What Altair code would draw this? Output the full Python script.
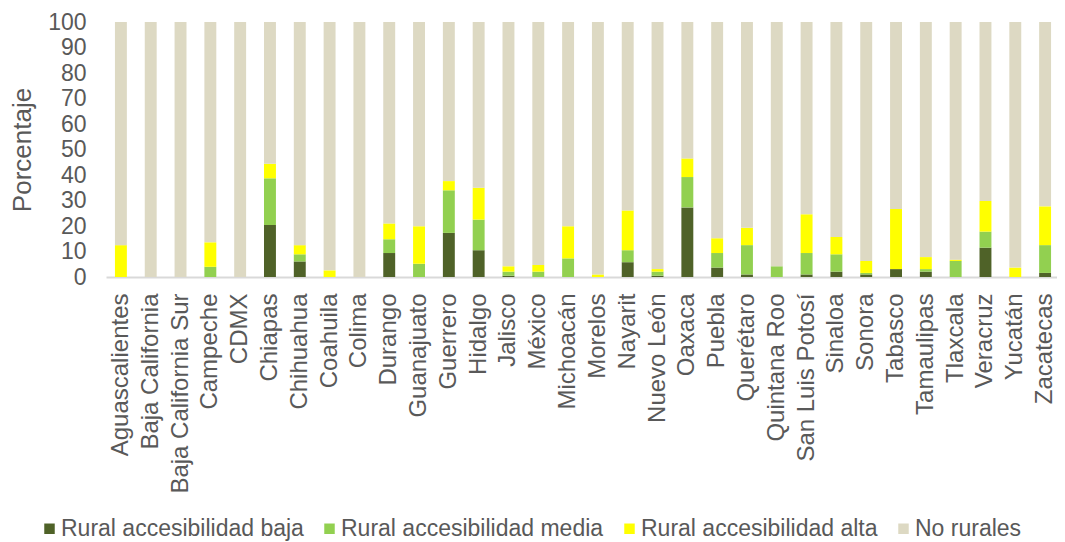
import altair as alt
import pandas as pd

states = ["Aguascalientes", "Baja California", "Baja California Sur", "Campeche", "CDMX",
          "Chiapas", "Chihuahua", "Coahuila", "Colima", "Durango", "Guanajuato", "Guerrero",
          "Hidalgo", "Jalisco", "México", "Michoacán", "Morelos", "Nayarit", "Nuevo León",
          "Oaxaca", "Puebla", "Querétaro", "Quintana Roo", "San Luis Potosí", "Sinaloa",
          "Sonora", "Tabasco", "Tamaulipas", "Tlaxcala", "Veracruz", "Yucatán", "Zacatecas"]

baja = [0, 0, 0, 0, 0, 20.4, 6.1, 0, 0, 9.4, 0, 17.3, 10.5, 0.5, 0, 0, 0, 5.8, 0.5, 27.3,
        3.7, 1.0, 0, 1.0, 2.1, 1.0, 3.1, 2.1, 0, 11.5, 0, 1.6]
media = [0, 0, 0, 4.0, 0, 18.3, 2.8, 0, 0, 5.4, 5.2, 16.7, 12.0, 1.6, 2.1, 7.3, 0, 4.7, 1.6,
         11.9, 5.7, 11.5, 4.2, 8.4, 6.8, 0.6, 0, 1.0, 6.3, 6.3, 0, 10.9]
alta = [12.5, 0, 0, 9.6, 0, 5.7, 3.6, 2.6, 0, 6.2, 14.7, 3.6, 12.5, 2.1, 2.6, 12.6, 1.0, 15.6,
        1.0, 7.3, 5.8, 6.8, 0, 15.2, 6.8, 4.7, 23.6, 4.7, 0.5, 12.0, 3.7, 15.2]
no_rurales = [87.5, 100, 100, 86.4, 100, 55.6, 87.5, 97.4, 100, 79.0, 80.1, 62.4, 65.0, 95.8,
              95.3, 80.1, 99.0, 73.9, 96.9, 53.5, 84.8, 80.7, 95.8, 75.4, 84.3, 93.7, 73.3,
              92.2, 93.2, 70.2, 96.3, 72.3]

series_names = ["Rural accesibilidad baja", "Rural accesibilidad media",
                "Rural accesibilidad alta", "No rurales"]
series_colors = ["#4f6228", "#92d050", "#ffff00", "#ddd9c3"]
series_values = [baja, media, alta, no_rurales]

rows = []
for si, (name, vals) in enumerate(zip(series_names, series_values)):
    for st, v in zip(states, vals):
        rows.append({"estado": st, "serie": name, "orden": si, "valor": v})
df = pd.DataFrame(rows)

FONT = "Liberation Sans"
GRAY = "#595959"

chart = alt.Chart(df).mark_bar().encode(
    x=alt.X("estado:N", sort=states, title=None,
            scale=alt.Scale(paddingInner=0.6, paddingOuter=0.3),
            axis=alt.Axis(labelAngle=270, labelAlign="right", labelBaseline="middle",
                          ticks=False, labelPadding=16, labelFontSize=24, labelColor=GRAY,
                          labelFont=FONT, labelLimit=400, domainColor="#d9d9d9",
                          domainWidth=2, grid=False)),
    y=alt.Y("valor:Q", stack="zero", title="Porcentaje",
            scale=alt.Scale(domain=[0, 100], nice=False),
            axis=alt.Axis(values=list(range(0, 101, 10)), domain=False, ticks=False,
                          grid=False, labelFontSize=23, labelColor=GRAY, labelFont=FONT,
                          labelPadding=20, titleFontSize=26, titleColor=GRAY, titleFont=FONT,
                          titleFontWeight="normal", titlePadding=12)),
    color=alt.Color("serie:N", sort=series_names,
                    scale=alt.Scale(domain=series_names, range=series_colors),
                    legend=alt.Legend(title=None, orient="none", legendX=-68, legendY=495,
                                      direction="horizontal", columns=4, symbolType="square",
                                      symbolSize=110, symbolStrokeWidth=0, labelFontSize=23,
                                      labelColor=GRAY, labelFont=FONT, labelOffset=0,
                                      columnPadding=14, labelLimit=500)),
    order=alt.Order("orden:Q", sort="ascending"),
).properties(
    width=954, height=255,
    padding={"left": 98, "top": 14, "right": -3, "bottom": 265},
    autosize=alt.AutoSizeParams(type="none"),
).configure_view(stroke=None)

chart.save("out.html", embed_options={"renderer": "svg", "actions": False})
